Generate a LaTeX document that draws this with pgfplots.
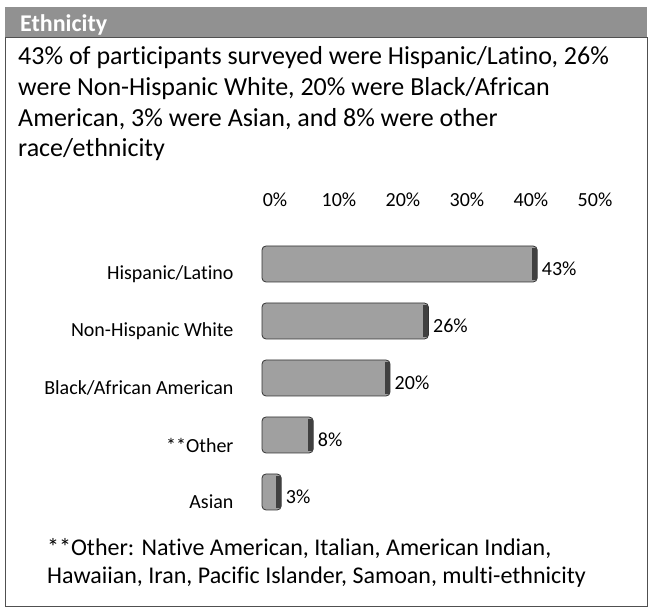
\documentclass[border=0pt]{standalone}
\usepackage{fontspec}
\setmainfont{Carlito}[Ligatures=NoCommon]
\usepackage{pgfplots}
\pgfplotsset{compat=1.18}
\definecolor{hdr}{RGB}{145,145,145}
\definecolor{boxline}{RGB}{80,80,80}
\definecolor{barfill}{RGB}{160,160,160}
\begin{document}
\begin{tikzpicture}
\path[use as bounding box] (0,0) rectangle (650pt,610pt);
% header and box (y_tikz = 610 - y_px)
\fill[hdr] (5pt,573pt) rectangle (647pt,603pt);
\draw[boxline, line width=0.8pt] (5pt,4pt) rectangle (647pt,573pt);
\node[anchor=base west, inner sep=0pt, text=white, font=\fontsize{24}{28}\selectfont\bfseries] at (20pt,578.5pt) {Ethnicity};
% paragraph
\begin{scope}[every node/.style={anchor=base west, inner sep=0pt, font=\fontsize{26}{30}\selectfont}]
\node at (18pt,545pt) {43\% of participants surveyed were Hispanic/Latino, 26\%};
\node at (18pt,514.5pt) {were Non-Hispanic White, 20\% were Black/African};
\node at (18pt,483.5pt) {American, 3\% were Asian, and 8\% were other};
\node at (18pt,453pt) {race/ethnicity};
\end{scope}
% footnote
\begin{scope}[every node/.style={anchor=base west, inner sep=0pt, font=\fontsize{24}{28}\selectfont}]
\node at (47pt,54pt) {**Other: Native American, Italian, American Indian,};
\node at (47pt,27pt) {Hawaiian, Iran, Pacific Islander, Samoan, multi-ethnicity};
\end{scope}
\begin{axis}[
  at={(262pt,89.5pt)}, anchor=south west,
  scale only axis, width=320pt, height=285pt,
  xmin=0, xmax=50, ymin=-0.5, ymax=4.5,
  clip=false,
  axis line style={draw=none},
  major tick length=0pt,
  xtick={0,10,20,30,40,50},
  xticklabels={0\%,10\%,20\%,30\%,40\%,50\%},
  xticklabel pos=upper,
  xticklabel style={font=\fontsize{20}{24}\selectfont, anchor=center, yshift=35.5pt, xshift=13pt},
  ytick={0,1,2,3,4},
  yticklabels={Asian,**Other,Black/African American,Non-Hispanic White,Hispanic/Latino},
  yticklabel style={font=\fontsize{20}{24}\selectfont, anchor=east, xshift=-25pt, yshift=-10pt},
  /pgf/number format/assume math mode=true,
]
\addplot[xbar, bar width=36pt, fill=barfill, draw=gray!40!black, line width=0.8pt, rounded corners=4pt,
  nodes near coords={\pgfmathprintnumber{\pgfplotspointmeta}\%},
  every node near coord/.append style={font=\fontsize{20}{24}\selectfont, anchor=west, xshift=1pt, yshift=-5pt, text=black}]
  coordinates {(3,0) (8,1) (20,2) (26,3) (43,4)};
\addplot[only marks, mark=|, mark size=16pt, mark options={line width=5pt, draw=black!75, xshift=-2.5pt}]
  coordinates {(3,0) (8,1) (20,2) (26,3) (43,4)};
\end{axis}
\end{tikzpicture}
\end{document}
